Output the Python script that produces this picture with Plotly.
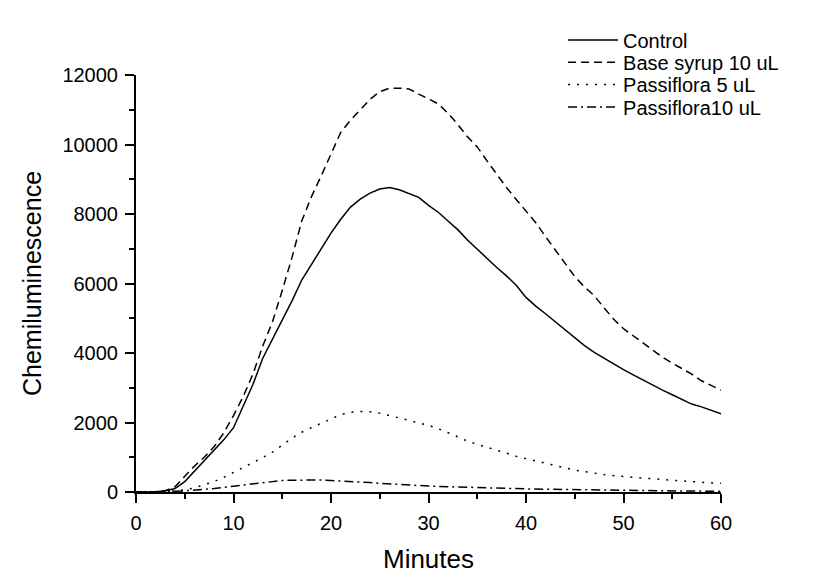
import plotly.graph_objects as go

minutes = list(range(0, 61))

control = [0, 0, 10, 30, 100, 300, 600, 900, 1200, 1500,
           1850, 2450, 3100, 3850, 4400, 4950, 5500, 6100, 6550, 7000,
           7450, 7850, 8200, 8430, 8600, 8720, 8760, 8700, 8600, 8480,
           8250, 8050, 7800, 7550, 7250, 6980, 6720, 6460, 6220, 5950,
           5600, 5350, 5130, 4900, 4680, 4450, 4210, 4020, 3850, 3680,
           3520, 3370, 3220, 3060, 2930, 2800, 2660, 2530, 2450, 2350,
           2250]

base_syrup = [0, 0, 10, 40, 150, 450, 750, 1000, 1300, 1700,
              2200, 2750, 3400, 4200, 4900, 5800, 6750, 7800, 8500, 9100,
              9750, 10350, 10700, 11000, 11300, 11520, 11620, 11620, 11600, 11450,
              11300, 11170, 10900, 10580, 10220, 9930, 9530, 9150, 8760, 8420,
              8080, 7750, 7350, 6970, 6600, 6200, 5900, 5650, 5300, 4970,
              4700, 4500, 4280, 4080, 3880, 3710, 3550, 3390, 3200, 3060,
              2930]

passiflora5 = [0, 0, 5, 15, 30, 60, 120, 200, 300, 420,
               560, 700, 850, 990, 1150, 1350, 1550, 1720, 1860, 1980,
               2100, 2230, 2290, 2320, 2310, 2270, 2200, 2130, 2080, 2000,
               1920, 1820, 1710, 1590, 1460, 1370, 1290, 1190, 1100, 1030,
               960, 890, 820, 760, 700, 630, 590, 540, 500, 470,
               440, 420, 400, 380, 365, 345, 320, 300, 280, 260,
               250]

passiflora10 = [0, 0, 5, 10, 20, 35, 50, 75, 100, 135,
                170, 205, 240, 275, 310, 330, 340, 345, 350, 345,
                330, 320, 310, 290, 270, 250, 230, 215, 200, 185,
                170, 160, 150, 140, 130, 122, 115, 108, 100, 95,
                90, 85, 80, 75, 70, 65, 60, 55, 50, 48,
                45, 42, 40, 38, 35, 32, 30, 28, 25, 22,
                20]

series_names = ["Control", "Base syrup 10 uL", "Passiflora 5 uL", "Passiflora10 uL"]
series_values = [control, base_syrup, passiflora5, passiflora10]
series_dash = ["solid", "8px,5px", "2px,7px", "9px,4px,2px,4px"]

x_ticks = [0, 10, 20, 30, 40, 50, 60]
y_ticks = [0, 2000, 4000, 6000, 8000, 10000, 12000]
y_ticktext = ["0", "2000", "4000", "6000", "8000", "10000", "12000"]

FONT = "Liberation Sans, Arial, sans-serif"

legend_ids = ["legend", "legend2", "legend3", "legend4"]
legend_rows_y = [1.084, 1.0305, 0.977, 0.9235]

fig = go.Figure()
for name, vals, dash, lid in zip(series_names, series_values, series_dash, legend_ids):
    fig.add_trace(go.Scatter(
        x=minutes, y=vals, mode="lines", name=name, legend=lid,
        line=dict(color="black", width=1.5, dash=dash),
    ))

axis_common = dict(
    showline=True, linecolor="black", linewidth=2,
    ticks="outside", ticklen=9, tickwidth=2, tickcolor="black",
    showgrid=False, zeroline=False, ticklabelstandoff=3,
    tickfont=dict(family=FONT, size=20, color="black"),
)

fig.update_xaxes(
    range=[0, 60], tickvals=x_ticks, ticktext=[str(v) for v in x_ticks],
    title=dict(text="Minutes", font=dict(family=FONT, size=26, color="black"), standoff=17),
    minor=dict(dtick=5, tick0=0, ticks="outside", ticklen=5, tickwidth=2, tickcolor="black"),
    **axis_common,
)
fig.update_yaxes(
    range=[0, 12000], tickvals=y_ticks, ticktext=y_ticktext,
    title=dict(text="Chemiluminescence", font=dict(family=FONT, size=25, color="black"), standoff=14),
    minor=dict(dtick=1000, tick0=0, ticks="outside", ticklen=5, tickwidth=2, tickcolor="black"),
    **axis_common,
)

layout_legends = {}
for lid, ly in zip(legend_ids, legend_rows_y):
    layout_legends[lid] = dict(
        x=0.73, y=ly, xanchor="left", yanchor="middle",
        bgcolor="rgba(0,0,0,0)", borderwidth=0,
        font=dict(family=FONT, size=20, color="black"),
        itemwidth=50,
    )

fig.update_layout(
    width=824, height=573,
    margin=dict(l=128, r=111, t=53, b=80),
    paper_bgcolor="white", plot_bgcolor="white",
    font=dict(family=FONT, color="black"),
    showlegend=True,
    **layout_legends,
)

fig.write_html("out.html")
